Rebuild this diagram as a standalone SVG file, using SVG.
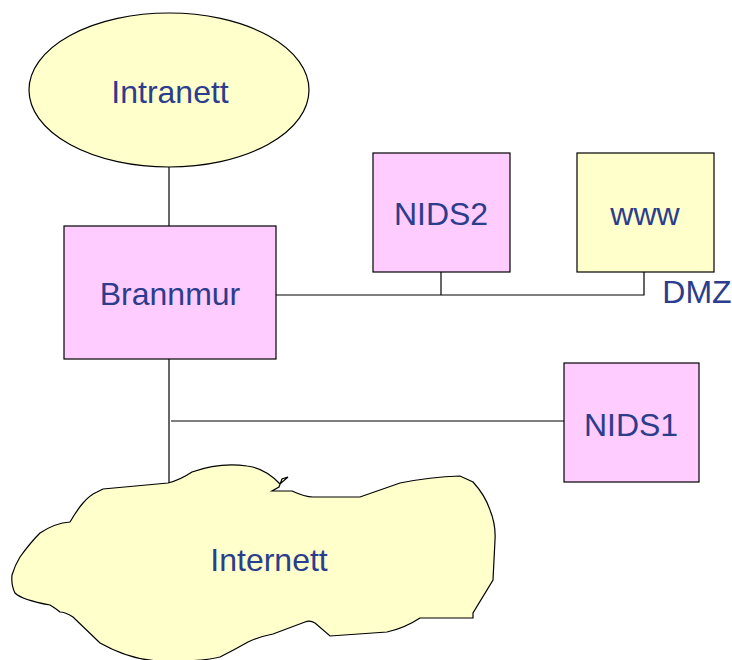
<svg xmlns="http://www.w3.org/2000/svg" width="732" height="660" viewBox="0 0 732 660">
  <style>
    .lbl { font-family: "Liberation Sans", Arial, sans-serif; font-size: 32px; fill: #2B3D8C; text-anchor: middle; }
    .pink { fill: #FFCCFF; stroke: #000; stroke-width: 1.2; }
    .yel { fill: #FFFFCC; stroke: #000; stroke-width: 1.2; }
    .wire { stroke: #000; stroke-width: 1.2; fill: none; }
  </style>
  <rect width="732" height="660" fill="#fff"/>

  <g id="connectors">
    <line class="wire" x1="169" y1="167" x2="169" y2="226"/>
    <polyline class="wire" points="276,295 644,295 644,272"/>
    <line class="wire" x1="441" y1="272" x2="441" y2="295"/>
    <line class="wire" x1="169" y1="359" x2="169" y2="484"/>
    <line class="wire" x1="171" y1="421" x2="564" y2="421"/>
  </g>

  <g id="intranett">
    <ellipse class="yel" cx="169" cy="90" rx="140" ry="77"/>
    <text class="lbl" x="170" y="103">Intranett</text>
  </g>

  <g id="brannmur">
    <rect class="pink" x="64" y="226" width="212" height="133"/>
    <text class="lbl" x="170" y="305">Brannmur</text>
  </g>

  <g id="nids2">
    <rect class="pink" x="373" y="153" width="137" height="119"/>
    <text class="lbl" x="441" y="225">NIDS2</text>
  </g>

  <g id="www">
    <rect class="yel" x="577" y="153" width="137" height="119"/>
    <text class="lbl" x="645" y="225">www</text>
  </g>

  <g id="dmz">
    <text class="lbl" x="697" y="303">DMZ</text>
  </g>

  <g id="nids1">
    <rect class="pink" x="564" y="363" width="135" height="119"/>
    <text class="lbl" x="631" y="436">NIDS1</text>
  </g>

  <g id="internett">
    <path class="yel" d="M97,492 L103,489 L168,483 Q180,480 192,472 Q220,462 247,466 Q265,468 280,484 L288,477 L282,479 L279,487 L272,491 L292,491 Q305,497 313,497 L360,497 L400,483 Q430,477 460,476 L473,482 Q485,495 490,510 Q496,525 495,540 Q494,560 493,580 L473,613 L473,618 L420,618 Q405,628 387,632 L330,636 L315,623 Q310,620 305,622 L273,634 Q258,637 248,642 Q234,650 220,657 Q200,662 160,661 Q130,660 100,643 L73,617 Q65,612 60,612 Q55,608 50,605 Q22,600 15,593 Q11,585 12,575 Q15,565 20,557 Q30,543 40,533 Q55,523 70,522 Q77,510 83,503 Q90,495 97,492 Z"/>
    <text class="lbl" x="269" y="571">Internett</text>
  </g>
</svg>
